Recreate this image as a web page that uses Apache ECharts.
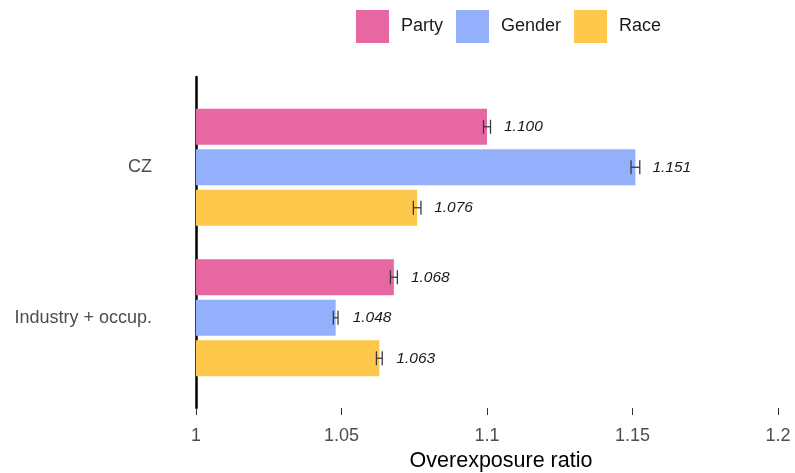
<!DOCTYPE html>
<html>
<head>
<meta charset="utf-8">
<script src="https://cdn.jsdelivr.net/npm/echarts@6/dist/echarts.min.js"></script>
<style>
  html, body { margin: 0; padding: 0; background: #fff; }
  #chart { width: 795px; height: 473px; }
</style>
</head>
<body>
<div id="chart"></div>
<script>
// Overexposure ratios by grouping level, with small confidence intervals
const categories = ['CZ', 'Industry + occup.'];
const seriesNames = ['Party', 'Gender', 'Race'];
const party = [1.100, 1.068];
const gender = [1.151, 1.048];
const race = [1.076, 1.063];
// half-widths of the confidence intervals
const partyErr = [0.0012, 0.0012];
const genderErr = [0.0015, 0.0008];
const raceErr = [0.0013, 0.0010];
const xTicks = [1, 1.05, 1.1, 1.15, 1.2];

const colors = ['#E767A3', '#94B0FD', '#FEC84D'];
const values = [party, gender, race];
const errs = [partyErr, genderErr, raceErr];

const BAR_W = 36;
const BAR_STEP = 40.5;
const FONT = 'Liberation Sans, Arial, Helvetica, sans-serif';

const chart = echarts.init(document.getElementById('chart'), null, { renderer: 'canvas' });

const barSeries = seriesNames.map((name, i) => ({
  name: name,
  type: 'bar',
  xAxisIndex: 0,
  yAxisIndex: 0,
  barWidth: BAR_W,
  barGap: '12.5%',
  itemStyle: { color: colors[i] },
  data: values[i],
  label: {
    show: true,
    position: 'right',
    distance: 17,
    formatter: p => p.value.toFixed(3),
    fontFamily: FONT,
    fontStyle: 'italic',
    fontSize: 15.5,
    color: '#1a1a1a'
  },
  emphasis: { disabled: true },
  z: 2
}));

const errSeries = seriesNames.map((name, i) => ({
  name: name + ' CI',
  type: 'custom',
  xAxisIndex: 0,
  yAxisIndex: 0,
  data: values[i].map((v, k) => [v - errs[i][k], v + errs[i][k], k]),
  renderItem: function (params, api) {
    const lo = api.coord([api.value(0), api.value(2)]);
    const hi = api.coord([api.value(1), api.value(2)]);
    const y = lo[1] + (i - 1) * BAR_STEP;
    const h = 7;
    const style = { stroke: '#3a3a3a', lineWidth: 1.3 };
    return {
      type: 'group',
      children: [
        { type: 'line', shape: { x1: lo[0], y1: y - h, x2: lo[0], y2: y + h }, style: style },
        { type: 'line', shape: { x1: hi[0], y1: y - h, x2: hi[0], y2: y + h }, style: style },
        { type: 'line', shape: { x1: lo[0], y1: y, x2: hi[0], y2: y }, style: style }
      ]
    };
  },
  z: 3,
  silent: true
}));

const option = {
  backgroundColor: '#ffffff',
  animation: false,
  color: colors,
  legend: {
    data: seriesNames,
    left: 356,
    top: 10,
    padding: 0,
    itemWidth: 33,
    itemHeight: 33,
    itemGap: 13,
    icon: 'rect',
    selectedMode: false,
    textStyle: {
      fontFamily: FONT,
      fontSize: 18,
      color: '#1a1a1a',
      padding: [0, 0, 0, 7]
    }
  },
  grid: [
    { left: 196, right: 17, top: 92, height: 301, outerBoundsMode: 'none', containLabel: false },
    { left: 196, right: 17, top: 77, height: 331, outerBoundsMode: 'none', containLabel: false }
  ],
  xAxis: [
    {
      gridIndex: 0, type: 'value', min: 1, max: 1.2, interval: 0.05,
      show: false, splitLine: { show: false }
    },
    {
      gridIndex: 1, type: 'value', min: 1, max: 1.2, interval: 0.05,
      axisLine: { show: false },
      axisTick: { show: true, length: 7, lineStyle: { color: '#333', width: 1 } },
      splitLine: { show: false },
      axisLabel: {
        margin: 19,
        fontFamily: FONT,
        fontSize: 18,
        color: '#4D4D4D',
        formatter: v => xTicks.find(t => Math.abs(t - v) < 1e-9).toString()
      },
      name: 'Overexposure ratio',
      nameLocation: 'middle',
      nameGap: 41,
      nameTextStyle: { fontFamily: FONT, fontSize: 21.5, color: '#000', padding: [0, 0, 0, 28] }
    }
  ],
  yAxis: [
    {
      gridIndex: 0, type: 'category', data: categories, inverse: true,
      axisLine: { show: false },
      axisTick: { show: false },
      splitLine: { show: false },
      axisLabel: { margin: 44, fontFamily: FONT, fontSize: 18, color: '#4D4D4D' }
    },
    {
      gridIndex: 1, type: 'value', min: 0, max: 1,
      axisLine: { show: true, lineStyle: { color: '#000', width: 2.5 } },
      axisTick: { show: false },
      axisLabel: { show: false },
      splitLine: { show: false }
    }
  ],
  series: barSeries.concat(errSeries)
};

chart.setOption(option);
</script>
</body>
</html>
